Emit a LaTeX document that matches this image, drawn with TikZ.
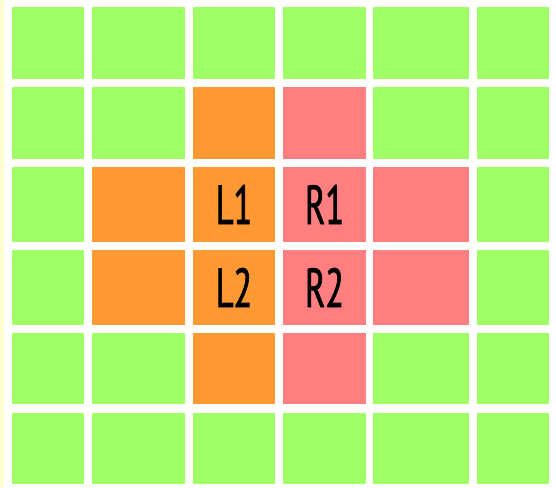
\documentclass[tikz,border=0pt]{standalone}
\usepackage{fontspec}
\newfontfamily\lblfont[FakeStretch=0.62,FakeBold=1.3]{PT Sans}
\definecolor{cgreen}{RGB}{160,255,102}
\definecolor{corange}{RGB}{255,153,51}
\definecolor{cpink}{RGB}{255,127,128}
\definecolor{cstrip}{RGB}{255,255,208}
\tikzset{
  lbl/.style={font=\lblfont\fontsize{55}{55}\selectfont, text=black, inner sep=0pt, anchor=center}
}
\begin{document}
\begin{tikzpicture}[x=1pt,y=-1pt]
\useasboundingbox (0,0) rectangle (556,487);
\fill[white] (0,0) rectangle (556,487);
\fill[cstrip] (0,0) rectangle (4,487);
% grid geometry
\def\colA{{12,92,193,283,373,477}}
\def\colB{{84,185,275,366,469,549}}
\def\rowA{{7,87,167,250,333,413}}
\def\rowB{{79,159,242,325,404,484}}
\foreach \i in {0,...,5}{
  \foreach \j in {0,...,5}{
    \pgfmathsetmacro{\xa}{\colA[\j]}
    \pgfmathsetmacro{\xb}{\colB[\j]}
    \pgfmathsetmacro{\ya}{\rowA[\i]}
    \pgfmathsetmacro{\yb}{\rowB[\i]}
    \fill[cgreen] (\xa,\ya) rectangle (\xb,\yb);
    \coordinate (c-\i-\j) at ({(\xa+\xb)/2},{(\ya+\yb)/2});
  }
}
% orange cells
\foreach \i/\j in {1/2,2/1,2/2,3/1,3/2,4/2}{
  \pgfmathsetmacro{\xa}{\colA[\j]}
  \pgfmathsetmacro{\xb}{\colB[\j]}
  \pgfmathsetmacro{\ya}{\rowA[\i]}
  \pgfmathsetmacro{\yb}{\rowB[\i]}
  \fill[corange] (\xa,\ya) rectangle (\xb,\yb);
}
% pink cells
\foreach \i/\j in {1/3,2/3,2/4,3/3,3/4,4/3}{
  \pgfmathsetmacro{\xa}{\colA[\j]}
  \pgfmathsetmacro{\xb}{\colB[\j]}
  \pgfmathsetmacro{\ya}{\rowA[\i]}
  \pgfmathsetmacro{\yb}{\rowB[\i]}
  \fill[cpink] (\xa,\ya) rectangle (\xb,\yb);
}
\node[lbl] (L1) at (c-2-2) {L1};
\node[lbl] (R1) at (c-2-3) {R1};
\node[lbl] (L2) at (c-3-2) {L2};
\node[lbl] (R2) at (c-3-3) {R2};
\end{tikzpicture}
\end{document}
